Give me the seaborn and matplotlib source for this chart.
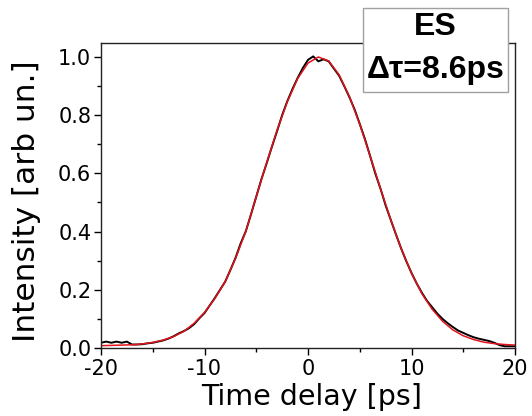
import matplotlib
matplotlib.use("Agg")
import matplotlib.pyplot as plt
import seaborn as sns
import pandas as pd
from matplotlib.patches import Rectangle
from matplotlib.ticker import MultipleLocator

# measured trace (time delay in ps, normalised intensity)
data_x = [-20, -19.5, -19, -18.5, -18, -17.5, -17, -16.5, -16, -15.5, -15, -14.5,
          -14, -13.5, -13, -12.5, -12, -11.5, -11, -10.5, -10, -9.5, -9, -8.5,
          -8, -7.5, -7, -6.5, -6, -5.5, -5, -4.5, -4, -3.5, -3, -2.5, -2, -1.5,
          -1, -0.5, 0, 0.5, 1, 1.5, 2, 2.5, 3, 3.5, 4, 4.5, 5, 5.5, 6, 6.5, 7,
          7.5, 8, 8.5, 9, 9.5, 10, 10.5, 11, 11.5, 12, 12.5, 13, 13.5, 14, 14.5,
          15, 15.5, 16, 16.5, 17, 17.5, 18, 18.5, 19, 19.5, 20]
data_y = [0.018, 0.022, 0.018, 0.022, 0.018, 0.022, 0.012, 0.012, 0.013, 0.016,
          0.018, 0.022, 0.026, 0.032, 0.040, 0.050, 0.058, 0.068, 0.082, 0.102,
          0.120, 0.146, 0.172, 0.200, 0.228, 0.268, 0.310, 0.360, 0.402, 0.460,
          0.520, 0.580, 0.634, 0.690, 0.744, 0.800, 0.848, 0.890, 0.928, 0.962,
          0.990, 1.002, 0.985, 0.992, 0.985, 0.960, 0.936, 0.900, 0.862, 0.820,
          0.770, 0.718, 0.660, 0.600, 0.548, 0.490, 0.440, 0.390, 0.342, 0.298,
          0.258, 0.222, 0.190, 0.162, 0.140, 0.118, 0.100, 0.085, 0.072, 0.060,
          0.052, 0.044, 0.037, 0.032, 0.028, 0.024, 0.018, 0.010, 0.006, 0.006,
          0.006]

# fitted curve
fit_x = list(range(-20, 21))
fit_y = [0.008, 0.009, 0.010, 0.011, 0.014, 0.019, 0.027, 0.039, 0.057, 0.085,
         0.122, 0.170, 0.228, 0.308, 0.402, 0.520, 0.636, 0.747, 0.846, 0.926,
         0.979, 1.000, 0.986, 0.939, 0.864, 0.769, 0.660, 0.548, 0.440, 0.342,
         0.257, 0.187, 0.133, 0.092, 0.062, 0.042, 0.029, 0.020, 0.015, 0.012,
         0.010]

x_ticks = [-20, -10, 0, 10, 20]
y_ticks = [0.0, 0.2, 0.4, 0.6, 0.8, 1.0]
label_line1 = "ES"
label_line2 = "Δτ=8.6ps"

sns.set_theme(style="ticks")
plt.rcParams['font.family'] = ['DejaVu Sans']
plt.rcParams['text.color'] = 'black'

W, H = 532, 416
fig = plt.figure(figsize=(W / 100, H / 100), dpi=100)
ax_l, ax_r, ax_t, ax_b = 101, 515, 43, 348
ax = fig.add_axes([ax_l / W, 1 - ax_b / H, (ax_r - ax_l) / W, (ax_b - ax_t) / H])

df_data = pd.DataFrame({"t": data_x, "I": data_y})
df_fit = pd.DataFrame({"t": fit_x, "I": fit_y})
sns.lineplot(data=df_data, x="t", y="I", ax=ax, color="black", lw=1.4,
             estimator=None, sort=False)
sns.lineplot(data=df_fit, x="t", y="I", ax=ax, color="#e3121b", lw=1.1,
             estimator=None, sort=False)

ax.set_xlim(-20, 20)
ax.set_ylim(0, 1.048)
ax.set_xticks(x_ticks)
ax.set_xticklabels([str(v) for v in x_ticks])
ax.set_yticks(y_ticks)
ax.set_yticklabels([f"{v:.1f}" for v in y_ticks])
ax.xaxis.set_minor_locator(MultipleLocator(5))
ax.yaxis.set_minor_locator(MultipleLocator(0.1))
ax.tick_params(which="major", direction="out", length=5, width=1,
               labelsize=15, colors="black")
ax.tick_params(axis="x", which="major", pad=3)
ax.tick_params(axis="y", which="major", pad=2)
ax.tick_params(which="minor", direction="out", length=3, width=1, colors="black")
for s in ax.spines.values():
    s.set_visible(True)
    s.set_color("#222222")
    s.set_linewidth(1.0)

ax.set_xlabel("Time delay [ps]", fontsize=20.5, color="black")
ax.set_ylabel("Intensity [arb un.]", fontsize=22.5, color="black")
ax.xaxis.set_label_coords((312 - ax_l) / (ax_r - ax_l), (ax_b - 383) / (ax_b - ax_t))
ax.yaxis.set_label_coords((41 - ax_l) / (ax_r - ax_l), (ax_b - 201) / (ax_b - ax_t))

rect = Rectangle((363 / W, 1 - 92 / H), 145 / W, 84 / H, transform=fig.transFigure,
                 facecolor="white", edgecolor="#a0a0a0", lw=1.0, zorder=10)
fig.patches.append(rect)
fig.text(435.5 / W, 1 - 27 / H, label_line1, ha="center", va="center", color="black",
         fontsize=23, fontweight="bold", family="Liberation Sans", zorder=11)
fig.text(435.5 / W, 1 - 70 / H, label_line2, ha="center", va="center", color="black",
         fontsize=23, fontweight="bold", family="Liberation Sans", zorder=11)

fig.savefig("out.png", dpi=100)
